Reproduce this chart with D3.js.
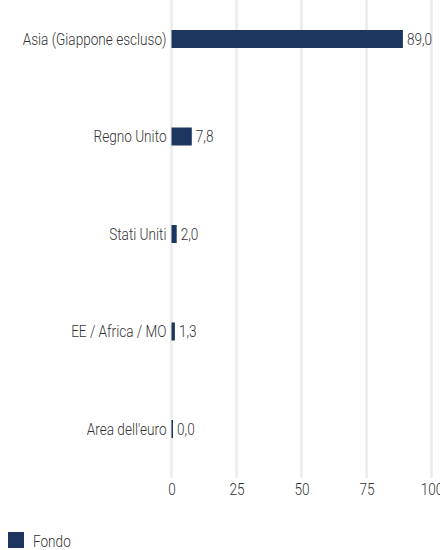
<!DOCTYPE html>
<html lang="it">
<head>
    <meta charset="UTF-8">
    <title>Fondo per area geografica</title>
    <script src="https://cdnjs.cloudflare.com/ajax/libs/d3/7.8.5/d3.min.js"></script>
    <style>
        body {
            margin: 0;
            background: #fff;
        }
        svg text {
            font-family: Roboto, "DejaVu Sans Condensed", sans-serif;
            font-weight: 300;
            fill: #333;
            font-size: 17px;
        }
        .grid line {
            stroke: #ebebeb;
            stroke-width: 2.5;
        }
    </style>
</head>
<body>
    <div id="chart"></div>
    <script>
        // data
        const categories = ["Asia (Giappone escluso)", "Regno Unito", "Stati Uniti", "EE / Africa / MO", "Area dell'euro"];
        const fondo = [89.0, 7.8, 2.0, 1.3, 0.0];
        const xTicks = [0, 25, 50, 75, 100];
        const seriesName = "Fondo";

        const W = 440, H = 550;
        const color = "#1c365f";
        const squeeze = 0.8; // condensed look for the labels

        const svg = d3.select("#chart")
            .append("svg")
            .attr("width", W)
            .attr("height", H);

        const x = d3.scaleLinear()
            .domain([0, 100])
            .range([171.5, 431.5]);

        const y = d3.scalePoint()
            .domain(categories)
            .range([39, 429]);

        const barH = 18;
        const barW = d => Math.max(x(d) - x(0), 1.5);

        // vertical gridlines
        svg.append("g")
            .attr("class", "grid")
            .selectAll("line")
            .data(xTicks)
            .enter().append("line")
            .attr("x1", d => x(d))
            .attr("x2", d => x(d))
            .attr("y1", 0)
            .attr("y2", 478);

        // bars
        svg.selectAll(".bar")
            .data(fondo)
            .enter().append("rect")
            .attr("class", "bar")
            .attr("x", x(0))
            .attr("y", (d, i) => y(categories[i]) - barH / 2)
            .attr("width", barW)
            .attr("height", barH)
            .attr("fill", color);

        const fmt = d => d.toFixed(1).replace(".", ",");

        // value labels
        svg.selectAll(".val")
            .data(fondo)
            .enter().append("text")
            .attr("class", "val")
            .attr("transform", (d, i) => `translate(${x(0) + barW(d) + 4},${y(categories[i])}) scale(${squeeze},1)`)
            .attr("dy", "0.35em")
            .text(fmt);

        // category labels
        svg.selectAll(".cat")
            .data(categories)
            .enter().append("text")
            .attr("class", "cat")
            .attr("transform", d => `translate(${x(0) - 5},${y(d)}) scale(${squeeze},1)`)
            .attr("dy", "0.35em")
            .attr("text-anchor", "end")
            .text(d => d);

        // x axis labels
        const xAxis = svg.append("g")
            .attr("transform", "translate(0,483)")
            .call(d3.axisBottom(x).tickValues(xTicks).tickSize(0).tickPadding(0));
        xAxis.select(".domain").remove();
        xAxis.selectAll("text")
            .attr("fill", "#333")
            .attr("y", null)
            .attr("dy", "0.71em")
            .attr("transform", `scale(${squeeze},1)`)
            .style("font-size", "17px")
            .style("font-family", null);

        // legend
        const legend = svg.append("g").attr("transform", "translate(8,532)");
        legend.append("rect")
            .attr("width", 16)
            .attr("height", 16)
            .attr("fill", color);
        legend.append("text")
            .attr("transform", `translate(25,9) scale(${squeeze},1)`)
            .attr("dy", "0.35em")
            .text(seriesName);
    </script>
</body>
</html>
